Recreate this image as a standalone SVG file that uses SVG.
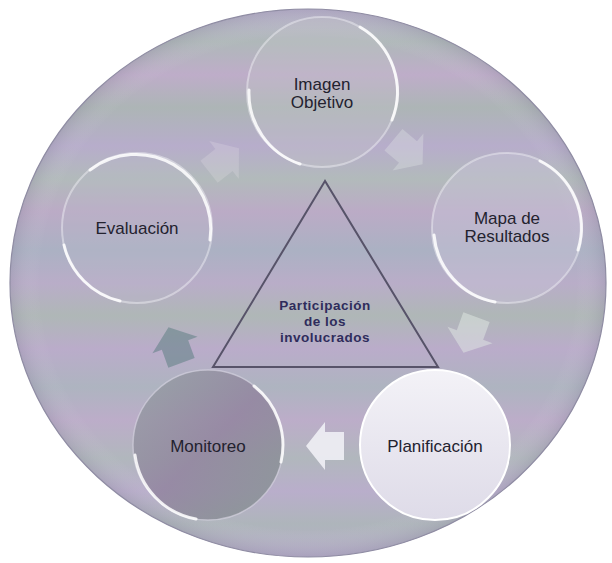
<svg xmlns="http://www.w3.org/2000/svg" width="612" height="563" viewBox="0 0 612 563">
<style>
.lbl{font-family:"Liberation Sans",Arial,sans-serif;font-size:17px;fill:#23222f;text-anchor:middle}
.ctr{font-family:"Liberation Sans",Arial,sans-serif;font-size:13.5px;font-weight:bold;fill:#2f2c5c;text-anchor:middle;letter-spacing:0.5px}
.node{stroke:#f4f3f8;stroke-width:2;stroke-opacity:0.45}
.rim{fill:none;stroke:#ffffff;stroke-width:3;stroke-linecap:round;stroke-opacity:0.85}
</style>
<defs>
<linearGradient id="bands" x1="0" y1="0" x2="0" y2="1">
<stop offset="0" stop-color="#bab2cd"/>
<stop offset="0.06" stop-color="#afb8b9"/>
<stop offset="0.12" stop-color="#beadc9"/>
<stop offset="0.18" stop-color="#adb5b6"/>
<stop offset="0.25" stop-color="#b7adcb"/>
<stop offset="0.31" stop-color="#b2babb"/>
<stop offset="0.37" stop-color="#bbabc6"/>
<stop offset="0.44" stop-color="#abb1c3"/>
<stop offset="0.50" stop-color="#b9adc8"/>
<stop offset="0.56" stop-color="#afb7b7"/>
<stop offset="0.62" stop-color="#baacca"/>
<stop offset="0.69" stop-color="#aeb4c0"/>
<stop offset="0.75" stop-color="#bcadc9"/>
<stop offset="0.82" stop-color="#b1b7bd"/>
<stop offset="0.88" stop-color="#b9aecb"/>
<stop offset="0.94" stop-color="#aeb5bb"/>
<stop offset="1" stop-color="#b6adc9"/>
</linearGradient>
<radialGradient id="glow" cx="0.5" cy="0.5" r="0.5">
<stop offset="0.9" stop-color="#ffffff" stop-opacity="0"/>
<stop offset="1" stop-color="#6e6a84" stop-opacity="0.18"/>
</radialGradient>
<linearGradient id="plan" x1="0" y1="0" x2="0" y2="1">
<stop offset="0" stop-color="#f3f2f7"/>
<stop offset="1" stop-color="#dedbe8"/>
</linearGradient>
<linearGradient id="mon" x1="0" y1="0" x2="1" y2="1">
<stop offset="0" stop-color="#94a0a2"/>
<stop offset="0.5" stop-color="#8f819c"/>
<stop offset="1" stop-color="#83948f"/>
</linearGradient>
<path id="arr" d="M-19,-14 H0 V-24 L19,0 L0,24 V14 H-19 Z"/>
</defs>

<g id="background">
<ellipse cx="308" cy="283" rx="298" ry="274" fill="url(#bands)"/>
<ellipse cx="308" cy="283" rx="298" ry="274" fill="url(#glow)"/>
<ellipse cx="308" cy="283" rx="298" ry="274" fill="none" stroke="#8f8ca3" stroke-width="1.2"/>
</g>

<g id="connectors">
<use href="#arr" transform="translate(408,152) rotate(40)" fill="#e8efea" fill-opacity="0.3"/>
<use href="#arr" transform="translate(470,335) rotate(110)" fill="#e6efe8" fill-opacity="0.45"/>
<use href="#arr" transform="translate(325,446) rotate(180)" fill="#f0eff5" fill-opacity="0.9"/>
<use href="#arr" transform="translate(175,345) rotate(250)" fill="#5f7f84" fill-opacity="0.55"/>
<use href="#arr" transform="translate(224,160) rotate(-38)" fill="#ece6ef" fill-opacity="0.22"/>
</g>

<g id="center">
<polygon points="325,181 213,367 438,367" fill="none" stroke="#575369" stroke-width="2"/>
<text class="ctr" x="325" y="310">Participación</text>
<text class="ctr" x="325" y="326">de los</text>
<text class="ctr" x="325" y="342">involucrados</text>
</g>

<g id="imagen">
<circle class="node" cx="322" cy="92" r="75" fill="#c2c4c8" fill-opacity="0.35"/>
<path class="rim" d="M249,90 A75,75 0 0 0 300,164"/>
<path class="rim" d="M360,27 A75,75 0 0 1 392,120" stroke-opacity="0.6"/>
<text class="lbl" x="322" y="90">Imagen</text>
<text class="lbl" x="322" y="108">Objetivo</text>
</g>

<g id="mapa">
<circle class="node" cx="507" cy="228" r="75" fill="#c8c4d8" fill-opacity="0.45"/>
<path class="rim" d="M434,235 A75,75 0 0 0 495,302"/>
<path class="rim" d="M540,161 A75,75 0 0 1 578,250" stroke-opacity="0.6"/>
<text class="lbl" x="507" y="224">Mapa de</text>
<text class="lbl" x="507" y="242">Resultados</text>
</g>

<g id="planificacion">
<circle cx="435" cy="445" r="75" fill="url(#plan)" stroke="#ffffff" stroke-width="2"/>
<text class="lbl" x="435" y="452">Planificación</text>
</g>

<g id="monitoreo">
<circle cx="208" cy="445" r="75" fill="url(#mon)" fill-opacity="0.8" stroke="#d8d6e2" stroke-width="1.5" stroke-opacity="0.6"/>
<path class="rim" d="M135,455 A75,75 0 0 0 196,519" stroke-opacity="0.7"/>
<path class="rim" d="M254,386 A75,75 0 0 1 281,462" stroke-opacity="0.6"/>
<text class="lbl" x="208" y="452">Monitoreo</text>
</g>

<g id="evaluacion">
<circle class="node" cx="137" cy="228" r="75" fill="#bdbacd" fill-opacity="0.25"/>
<path class="rim" d="M64,245 A75,75 0 0 0 120,301"/>
<path class="rim" d="M90,170 A75,75 0 0 1 210,240" stroke-opacity="0.7"/>
<text class="lbl" x="137" y="234">Evaluación</text>
</g>
</svg>
